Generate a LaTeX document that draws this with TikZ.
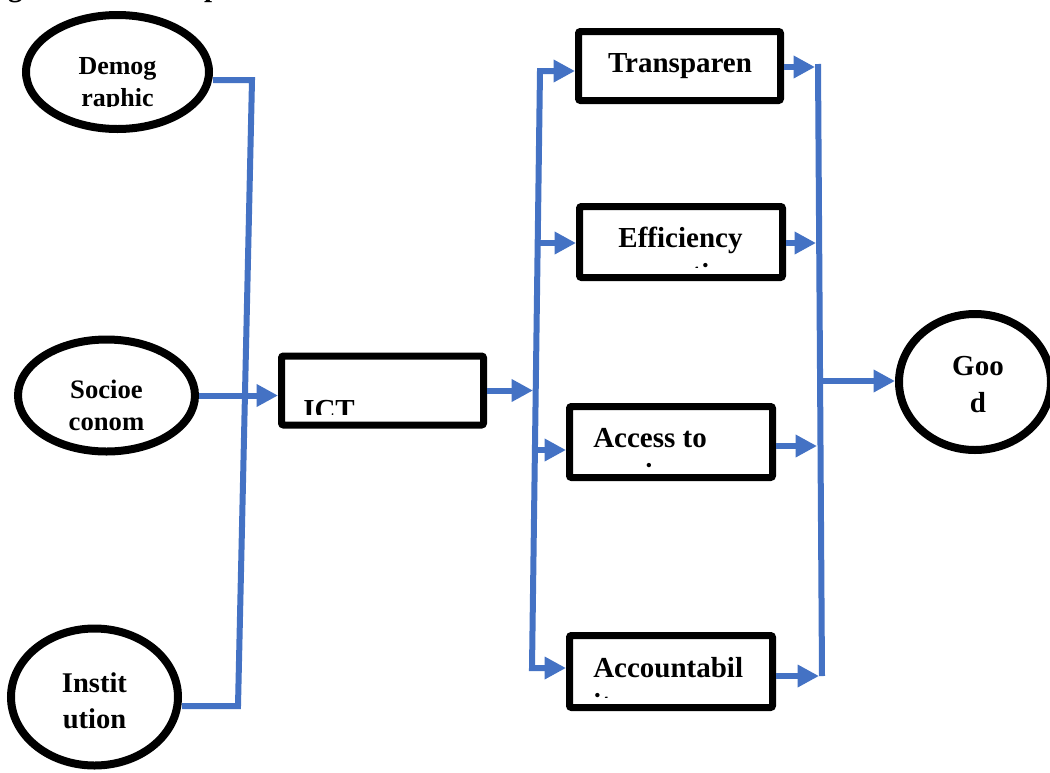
\documentclass[tikz,border=0pt]{standalone}
\usepackage{fontspec}
\setmainfont{Liberation Serif}
\usetikzlibrary{arrows.meta,shapes.geometric,calc}
\definecolor{lineblue}{HTML}{4472C4}
\begin{document}
\begin{tikzpicture}[x=0.75pt,y=-0.75pt,
  conn/.style={draw=lineblue,line width=4.5pt},
  arr/.style={conn,-{Triangle[length=16pt,width=16pt]}},
  oval/.style 2 args={ellipse,draw,line width=6pt,minimum width=#1*0.75pt,minimum height=#2*0.75pt,inner sep=0pt},
  box/.style 2 args={rectangle,draw,line width=5.25pt,rounded corners=1.5pt,minimum width=#1*0.75pt,minimum height=#2*0.75pt,inner sep=0pt},
  lbl/.style={font=\bfseries\fontsize{21.75}{26}\selectfont,anchor=base,inner sep=0pt},
  lblw/.style={lbl,anchor=base west},
]
\fill[white] (0,0) rectangle (1050,772);
\useasboundingbox (0,0) rectangle (1050,772);

% title (only descenders visible)
\node[lblw] (title) at (-18,-3.5) {Figure 2.1: Conceptual Framework};

% ovals
\node[oval={183}{114}] (demo) at (117.5,72) {};
\node[oval={177}{112}] (socio) at (106.5,395.5) {};
\node[oval={167}{137}] (inst) at (94.5,697) {};
\node[oval={152}{136}] (good) at (975,382) {};

% boxes
\node[box={202}{69}] (ict) at (382.5,390.5) {};
\node[box={202}{69}] (trans) at (679.5,66) {};
\node[box={203}{71}] (eff) at (681,242) {};
\node[box={203}{71}] (acc) at (671,442) {};
\node[box={203}{72}] (acct) at (671,671.5) {};

% oval texts
\node[lbl,font=\bfseries\fontsize{19.5}{24}\selectfont] (demoA) at (117.5,74) {Demog};
\begin{scope}
\clip (0,0) rectangle (1050,106);
\node[lbl,font=\bfseries\fontsize{19.5}{24}\selectfont] (demoB) at (117.5,106) {raphic};
\end{scope}
\node[lbl,font=\bfseries\fontsize{20}{24}\selectfont] (socioA) at (106.5,398) {Socioe};
\node[lbl,font=\bfseries\fontsize{20}{24}\selectfont] (socioB) at (106.5,430) {conom};
\node[lbl,font=\bfseries\fontsize{21.4}{26}\selectfont] (instA) at (94.5,692) {Instit};
\node[lbl,font=\bfseries\fontsize{21.4}{26}\selectfont] (instB) at (94.5,728) {ution};
\node[lbl] (goodA) at (978,375) {Goo};
\node[lbl] (goodB) at (978,412) {d};

% box texts
\node[lbl] (transA) at (680,72) {Transparen};
\node[lbl] (effA) at (680.5,247) {Efficiency};
\begin{scope}
\clip (0,0) rectangle (1050,267);
\node[lbl] (effB) at (680.5,283) {operation};
\end{scope}
\node[lblw] (accA) at (593,447) {Access to};
\begin{scope}
\clip (0,300) rectangle (1050,467);
\node[lblw] (accB) at (593,483) {services};
\end{scope}
\node[lblw] (acctA) at (593,677) {Accountabil};
\begin{scope}
\clip (0,500) rectangle (1050,697);
\node[lblw] (acctB) at (593,713) {ity};
\end{scope}
\begin{scope}
\clip (0,300) rectangle (1050,414);
\node[lblw] (ictA) at (303,419) {ICT};
\end{scope}

% left bus (inputs)
\coordinate (lt) at (252,80);
\coordinate (lb) at (238,706);
\draw[conn] (demo.east |- lt) -- (lt) -- (lb) -- (inst.east |- lb);
\draw[arr] (socio.east) -- (socio.east -| ict.west);

% ICT to middle bus
\coordinate (lm) at (533,390.5);
\draw[arr] (ict.east) -- (lm);
\coordinate (bt) at (540,71);
\coordinate (bb) at (532,668);
\draw[conn,{Triangle[length=16pt,width=16pt]}-{Triangle[length=16pt,width=16pt]}]
  (bb -| acct.west) -- (bb) -- (bt) -- (bt -| trans.west);
\coordinate (b2) at (537.8,243);
\coordinate (b3) at (535.1,450);
\draw[arr] (b2) -- (b2 -| eff.west);
\draw[arr] (b3) -- (b3 -| acc.west);

% right bus
\coordinate (rt) at (818,64);
\coordinate (rb) at (822,676);
\draw[conn] (rt) -- (rb);
\coordinate (r1) at (815,67);
\coordinate (r2) at (816,243);
\coordinate (r3) at (817,446);
\coordinate (r4) at (819,676);
\draw[arr] (trans.east |- r1) -- (r1);
\draw[arr] (eff.east |- r2) -- (r2);
\draw[arr] (acc.east |- r3) -- (r3);
\draw[arr] (acct.east |- r4) -- (r4);
\coordinate (r5) at (821,381);
\draw[arr] (r5) -- (r5 -| good.west);
\end{tikzpicture}
\end{document}
